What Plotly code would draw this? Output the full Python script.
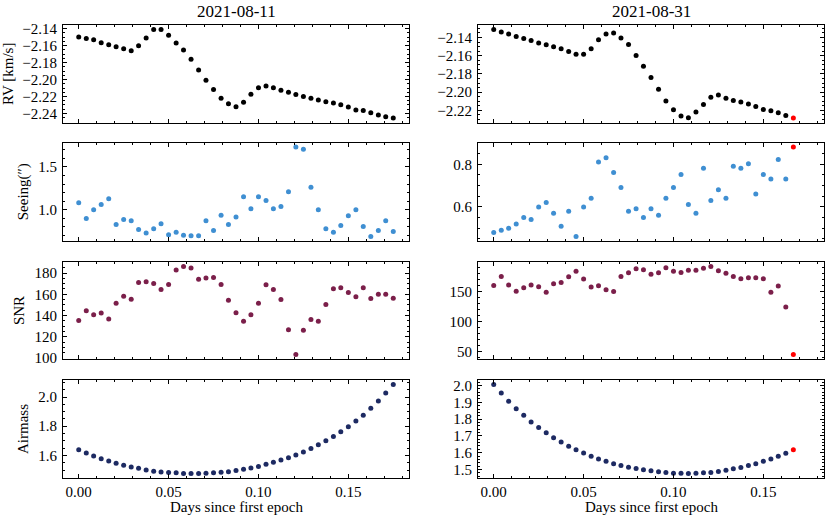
import plotly.graph_objects as go
from plotly.subplots import make_subplots

# --- data --------------------------------------------------------------
dates = ["2021-08-11", "2021-08-31"]

days_0811 = [0.0000, 0.0042, 0.0083, 0.0125, 0.0167, 0.0208, 0.0250, 0.0292,
             0.0333, 0.0375, 0.0417, 0.0458, 0.0500, 0.0542, 0.0583, 0.0625,
             0.0667, 0.0708, 0.0750, 0.0792, 0.0833, 0.0875, 0.0917, 0.0958,
             0.1000, 0.1042, 0.1083, 0.1125, 0.1167, 0.1208, 0.1250, 0.1292,
             0.1333, 0.1375, 0.1417, 0.1458, 0.1500, 0.1542, 0.1583, 0.1625,
             0.1667, 0.1708, 0.1750]
days_0831 = [0.0000, 0.0042, 0.0083, 0.0125, 0.0167, 0.0208, 0.0250, 0.0292,
             0.0333, 0.0375, 0.0417, 0.0458, 0.0500, 0.0542, 0.0583, 0.0625,
             0.0667, 0.0708, 0.0750, 0.0792, 0.0833, 0.0875, 0.0917, 0.0958,
             0.1000, 0.1042, 0.1083, 0.1125, 0.1167, 0.1208, 0.1250, 0.1292,
             0.1333, 0.1375, 0.1417, 0.1458, 0.1500, 0.1542, 0.1583, 0.1625,
             0.1667]

rv_0811 = [-2.1498, -2.1514, -2.1529, -2.1565, -2.1588, -2.1612, -2.1635, -2.1659,
           -2.1600, -2.1510, -2.1410, -2.1408, -2.1478, -2.1569, -2.1651, -2.1761,
           -2.1886, -2.2008, -2.2118, -2.2220, -2.2286, -2.2322, -2.2267, -2.2173,
           -2.2098, -2.2075, -2.2098, -2.2125, -2.2149, -2.2176, -2.2200, -2.2220,
           -2.2243, -2.2263, -2.2278, -2.2298, -2.2325, -2.2361, -2.2365, -2.2392,
           -2.2420, -2.2439, -2.2455]
rv_0831 = [-2.1312, -2.1341, -2.1363, -2.1389, -2.1411, -2.1433, -2.1462, -2.1481,
           -2.1503, -2.1525, -2.1554, -2.1583, -2.1583, -2.1525, -2.1426, -2.1363,
           -2.1352, -2.1407, -2.1477, -2.1598, -2.1716, -2.1840, -2.1969, -2.2097,
           -2.2193, -2.2262, -2.2281, -2.2218, -2.2134, -2.2057, -2.2031, -2.2068,
           -2.2090, -2.2108, -2.2130, -2.2156, -2.2189, -2.2204, -2.2226, -2.2255,
           -2.2284]

seeing_0811 = [1.082, 0.898, 1.000, 1.062, 1.129, 0.828, 0.887, 0.871, 0.770, 0.727,
               0.777, 0.836, 0.707, 0.738, 0.703, 0.695, 0.695, 0.871, 0.758, 0.937,
               0.828, 0.914, 1.152, 1.012, 1.152, 1.109, 1.012, 1.039, 1.211, 1.734,
               1.707, 1.262, 1.000, 0.777, 0.738, 0.816, 0.930, 1.000, 0.805, 0.687,
               0.758, 0.871, 0.746]
seeing_0831 = [0.480, 0.491, 0.500, 0.520, 0.550, 0.541, 0.600, 0.620, 0.570, 0.509,
               0.580, 0.461, 0.600, 0.641, 0.811, 0.831, 0.761, 0.691, 0.580, 0.591,
               0.550, 0.591, 0.561, 0.641, 0.691, 0.752, 0.611, 0.570, 0.781, 0.630,
               0.680, 0.641, 0.791, 0.781, 0.802, 0.661, 0.752, 0.731, 0.822, 0.731,
               0.881]

snr_0811 = [135.4, 144.6, 140.9, 142.5, 136.9, 151.7, 158.2, 155.4, 171.1, 171.7,
            170.2, 164.6, 169.2, 182.8, 186.2, 184.6, 174.2, 175.4, 175.7, 169.2,
            154.5, 142.8, 134.8, 140.9, 151.7, 168.9, 164.6, 155.1, 126.8, 103.4,
            126.2, 136.3, 134.8, 150.5, 165.2, 166.2, 161.8, 157.8, 166.2, 156.0,
            160.0, 160.0, 156.3]
snr_0831 = [160.4, 175.3, 161.0, 150.5, 156.6, 161.0, 158.2, 148.9, 163.2, 165.4,
            174.7, 184.1, 170.9, 157.7, 159.9, 153.3, 150.0, 175.3, 181.3, 187.9,
            186.3, 179.1, 181.3, 189.6, 184.1, 181.9, 185.7, 185.7, 189.0, 192.0,
            184.6, 180.8, 175.3, 171.4, 173.1, 173.1, 171.4, 148.9, 159.3, 124.2,
            45.1]

airmass_0811 = [1.639, 1.616, 1.596, 1.578, 1.562, 1.546, 1.532, 1.521, 1.512, 1.501,
                1.492, 1.487, 1.483, 1.481, 1.477, 1.476, 1.476, 1.478, 1.481, 1.485,
                1.488, 1.496, 1.505, 1.514, 1.525, 1.539, 1.553, 1.569, 1.584, 1.603,
                1.623, 1.647, 1.673, 1.700, 1.729, 1.763, 1.797, 1.835, 1.876, 1.923,
                1.973, 2.027, 2.086]
airmass_0831 = [2.006, 1.955, 1.906, 1.862, 1.823, 1.783, 1.750, 1.719, 1.689, 1.663,
                1.638, 1.618, 1.598, 1.579, 1.563, 1.549, 1.535, 1.524, 1.514, 1.506,
                1.498, 1.492, 1.486, 1.482, 1.478, 1.478, 1.476, 1.478, 1.480, 1.482,
                1.488, 1.496, 1.504, 1.512, 1.524, 1.535, 1.549, 1.563, 1.579, 1.596,
                1.618]

# last exposure of 2021-08-31 is flagged (drawn in red)
flag_last_0831 = True

row_labels = ["RV [km/s]", "Seeing(\u2033)", "SNR", "Airmass"]
x_label = "Days since first epoch"
row_colors = ["#000000", "#3f8fd2", "#7b1f4a", "#1d2a62"]
flag_color = "#ff0000"

# tick spacing (major, minor, format) per panel: [row][col]
ticks = [
    [(0.02, 0.005, ".2f"), (0.02, 0.005, ".2f")],
    [(0.5, 0.1, ".1f"), (0.2, 0.05, ".1f")],
    [(20, 5, "d"), (50, 10, "d")],
    [(0.2, 0.05, ".1f"), (0.1, 0.02, ".1f")],
]

series = [
    [rv_0811, rv_0831],
    [seeing_0811, seeing_0831],
    [snr_0811, snr_0831],
    [airmass_0811, airmass_0831],
]
days = [days_0811, days_0831]


def padded(vals, frac=0.05):
    lo, hi = min(vals), max(vals)
    pad = (hi - lo) * frac
    return [lo - pad, hi + pad]


W, H = 831, 518
x_px = [(63, 409), (478, 824)]
y_px = [(25, 122.5), (142.5, 241), (262, 359), (380, 478)]
x_dom = [[a / W, b / W] for a, b in x_px]
y_dom = [[1 - b / H, 1 - t / H] for t, b in y_px]

font = "Liberation Serif"

fig = make_subplots(rows=4, cols=2)

for r in range(4):
    for c in range(2):
        vals = series[r][c]
        t = days[c]
        if c == 1 and flag_last_0831:
            xs, ys = t[:-1], vals[:-1]
        else:
            xs, ys = t, vals
        fig.add_trace(
            go.Scatter(x=xs, y=ys, mode="markers",
                       marker=dict(size=5, color=row_colors[r], line=dict(width=0)),
                       showlegend=False, hoverinfo="skip"),
            row=r + 1, col=c + 1,
        )
        if c == 1 and flag_last_0831:
            fig.add_trace(
                go.Scatter(x=t[-1:], y=vals[-1:], mode="markers",
                           marker=dict(size=5, color=flag_color, line=dict(width=0)),
                           showlegend=False, hoverinfo="skip"),
                row=r + 1, col=c + 1,
            )

axis_common = dict(
    showline=True, linecolor="black", linewidth=1, mirror="ticks",
    ticks="inside", ticklen=4, tickwidth=0.8, tickcolor="black",
    showgrid=False, zeroline=False,
    tickfont=dict(family=font, size=15, color="black"),
    automargin=False,
)
minor_common = dict(ticks="inside", ticklen=2, tickwidth=0.6,
                    tickcolor="black", showgrid=False)

x_range = padded(days_0811)

for r in range(4):
    for c in range(2):
        major, minor, fmt = ticks[r][c]
        fig.update_xaxes(
            **axis_common, domain=x_dom[c], range=x_range,
            tick0=0, dtick=0.05, tickformat=".2f",
            minor=dict(**minor_common, dtick=0.01),
            showticklabels=(r == 3),
            row=r + 1, col=c + 1,
        )
        fig.update_yaxes(
            **axis_common, domain=y_dom[r], range=padded(series[r][c]),
            tick0=0, dtick=major, tickformat=fmt,
            minor=dict(**minor_common, dtick=minor),
            ticklabelstandoff=2,
            title=dict(text=row_labels[r] if c == 0 else None,
                       font=dict(family=font, size=15, color="black"), standoff=6),
            row=r + 1, col=c + 1,
        )

for c in range(2):
    fig.add_annotation(
        text=dates[c], xref="paper", yref="paper",
        x=sum(x_dom[c]) / 2, y=1 - 12 / H, xanchor="center", yanchor="middle",
        showarrow=False, font=dict(family=font, size=17, color="black"),
    )
    fig.add_annotation(
        text=x_label, xref="paper", yref="paper",
        x=sum(x_dom[c]) / 2, y=1 - 507 / H, xanchor="center", yanchor="middle",
        showarrow=False, font=dict(family=font, size=15, color="black"),
    )

fig.update_layout(
    width=W, height=H, template="none",
    margin=dict(l=0, r=0, t=0, b=0),
    plot_bgcolor="white", paper_bgcolor="white",
    font=dict(family=font, size=15, color="black"),
)

# drop the browser's default 8px body margin so the figure sits at the page corner
fig.write_html("out.html", config={"displayModeBar": False},
               post_script="document.body.style.margin = '0px';")
